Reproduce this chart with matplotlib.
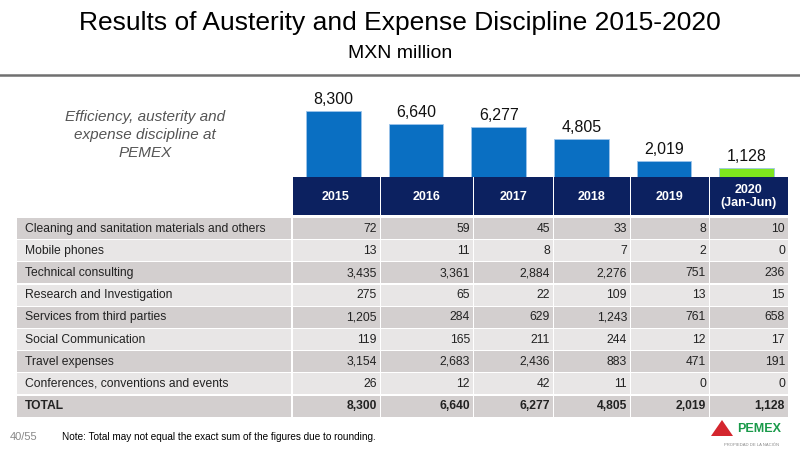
import matplotlib
matplotlib.use("Agg")
from matplotlib import pyplot as plt
from matplotlib.patches import Rectangle, Polygon
import numpy as np

plt.rcParams['font.family'] = ['Liberation Sans', 'DejaVu Sans']

# data
years = ['2015', '2016', '2017', '2018', '2019', '2020\n(Jan-Jun)']
totals = [8300, 6640, 6277, 4805, 2019, 1128]
bar_colors = ['#0a6fc2'] * 5 + ['#7ee61e']
categories = ['Cleaning and sanitation materials and others',
              'Mobile phones',
              'Technical consulting',
              'Research and Investigation',
              'Services from third parties',
              'Social Communication',
              'Travel expenses',
              'Conferences, conventions and events',
              'TOTAL']
values = [
    [72, 59, 45, 33, 8, 10],
    [13, 11, 8, 7, 2, 0],
    [3435, 3361, 2884, 2276, 751, 236],
    [275, 65, 22, 109, 13, 15],
    [1205, 284, 629, 1243, 761, 658],
    [119, 165, 211, 244, 12, 17],
    [3154, 2683, 2436, 883, 471, 191],
    [26, 12, 42, 11, 0, 0],
    [8300, 6640, 6277, 4805, 2019, 1128],
]

W, H = 800, 450
fig = plt.figure(figsize=(8, 4.5), dpi=100)

# overlay axes in pixel coords
ax = fig.add_axes([0, 0, 1, 1])
ax.set_xlim(0, W)
ax.set_ylim(H, 0)
ax.axis('off')

# title block
ax.text(400, 23, 'Results of Austerity and Expense Discipline 2015-2020',
        ha='center', va='center', fontsize=19, color='black')
ax.text(400, 54, 'MXN million', ha='center', va='center', fontsize=14, color='black')
ax.plot([0, W], [75, 75], color='#707070', lw=1.8)

ax.text(145, 135, 'Efficiency, austerity and\nexpense discipline at\nPEMEX',
        ha='center', va='center', fontsize=11, style='italic', color='#555555',
        linespacing=1.4)

# bars
col_edges = [292, 380, 473, 553, 630, 709, 788]
bar_top, bar_bottom = 77, 177
bax = fig.add_axes([col_edges[0] / W, 1 - bar_bottom / H,
                    (col_edges[-1] - col_edges[0]) / W, (bar_bottom - bar_top) / H])
bax.set_xlim(-0.5, 5.5)
bax.set_ylim(0, 8300 * 100 / 66)
bax.axis('off')
x = np.arange(len(totals))
bax.bar(x, totals, width=0.665, color=bar_colors, edgecolor='#9cc4ea', linewidth=0.6)
for xi, v in zip(x, totals):
    bax.text(xi, v + 500, f'{v:,}', ha='center', va='bottom', fontsize=11.5, color='#111111')

# header row
hdr_top, hdr_bot = 177, 215
for i, yr in enumerate(years):
    x0, x1 = col_edges[i], col_edges[i + 1]
    ax.add_patch(Rectangle((x0 + 0.5, hdr_top), x1 - x0 - 1, hdr_bot - hdr_top,
                           facecolor='#0c2160', edgecolor='none'))
    ax.text((x0 + x1) / 2, (hdr_top + hdr_bot) / 2 + 0.5, yr, ha='center', va='center',
            fontsize=9, color='white', fontweight='bold', linespacing=1.2)

# table
row_top = 218
row_h = 22.2
label_left = 17
for r, (cat, vals) in enumerate(zip(categories, values)):
    y0 = row_top + r * row_h
    fc = '#d3cfcf' if r % 2 == 0 else '#e8e6e6'
    bold = 'bold' if cat == 'TOTAL' else 'normal'
    ax.add_patch(Rectangle((label_left, y0), col_edges[0] - label_left - 1, row_h - 1.2,
                           facecolor=fc, edgecolor='none'))
    ax.text(25, y0 + row_h / 2 - 0.5, cat, ha='left', va='center', fontsize=8.7,
            color='#222222', fontweight=bold)
    for c, v in enumerate(vals):
        x0, x1 = col_edges[c], col_edges[c + 1]
        ax.add_patch(Rectangle((x0 + 0.5, y0), x1 - x0 - 1, row_h - 1.2,
                               facecolor=fc, edgecolor='none'))
        ax.text(x1 - 3, y0 + row_h / 2 - 0.5, f'{v:,}', ha='right', va='center',
                fontsize=8.7, color='#222222', fontweight=bold)

# footer
ax.text(10, 437, '40/55', ha='left', va='center', fontsize=8, color='#888888')
ax.text(62, 437, 'Note: Total may not equal the exact sum of the figures due to rounding.',
        ha='left', va='center', fontsize=7.2, color='black')

# logo
ax.add_patch(Polygon([[711, 436], [722, 420], [733, 436]], closed=True,
                     facecolor='#d4262e', edgecolor='none'))
ax.text(737, 429, 'PEMEX', ha='left', va='center', fontsize=9, fontweight='bold',
        color='#1a9a4a')
ax.text(752, 445, 'PROPIEDAD DE LA NACIÓN', ha='center', va='center', fontsize=3,
        color='#888888')

fig.savefig('out.png', dpi=100)
